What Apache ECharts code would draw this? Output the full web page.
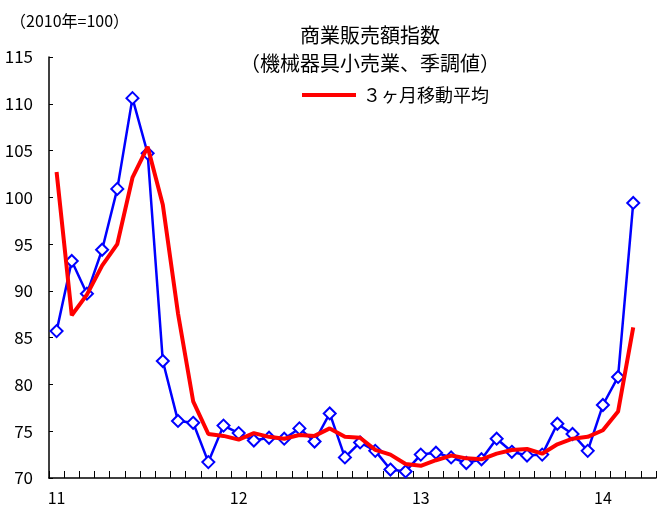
<!DOCTYPE html>
<html>
<head>
<meta charset="utf-8">
<script src="https://cdn.jsdelivr.net/npm/echarts@6/dist/echarts.min.js"></script>
<style>
  html, body { margin: 0; padding: 0; background: #fff; }
  #chart { width: 657px; height: 506px; }
</style>
</head>
<body>
<div id="chart"></div>
<script>
// Monthly categories, Jan 2011 – Apr 2014 (last slot left empty)
const months = [
  '2011/01','2011/02','2011/03','2011/04','2011/05','2011/06','2011/07','2011/08','2011/09','2011/10','2011/11','2011/12',
  '2012/01','2012/02','2012/03','2012/04','2012/05','2012/06','2012/07','2012/08','2012/09','2012/10','2012/11','2012/12',
  '2013/01','2013/02','2013/03','2013/04','2013/05','2013/06','2013/07','2013/08','2013/09','2013/10','2013/11','2013/12',
  '2014/01','2014/02','2014/03','2014/04'
];

// Monthly index (seasonally adjusted, 2010 = 100)
const monthlyIndex = [
  85.7, 93.2, 89.7, 94.4, 100.9, 110.6, 104.7, 82.5, 76.1, 75.9, 71.7, 75.6,
  74.8, 74.0, 74.3, 74.2, 75.3, 73.9, 76.9, 72.2, 73.8, 72.9, 70.9, 70.7,
  72.5, 72.7, 72.2, 71.6, 72.0, 74.2, 72.8, 72.4, 72.5, 75.8, 74.7, 72.9,
  77.8, 80.8, 99.4
];

// 3-month moving average
const movingAvg = [
  102.7, 87.4, 89.6, 92.7, 95.0, 102.1, 105.4, 99.2, 87.6, 78.2, 74.7, 74.5,
  74.1, 74.8, 74.4, 74.2, 74.6, 74.5, 75.3, 74.4, 74.3, 73.0, 72.5, 71.5,
  71.3, 71.9, 72.4, 72.1, 72.0, 72.6, 73.0, 73.1, 72.6, 73.6, 74.2, 74.4,
  75.1, 77.1, 86.1
];

const yMin = 70, yMax = 115, yStep = 5;

const FONT = '"Noto Sans CJK JP", "Noto Sans", sans-serif';
const BLUE = '#0000ff';
const RED = '#ff0000';

const chart = echarts.init(document.getElementById('chart'), null, { renderer: 'canvas' });

chart.setOption({
  animation: false,
  backgroundColor: '#ffffff',
  textStyle: { fontFamily: FONT, color: '#000' },
  grid: { left: 49, right: 1, top: 57, bottom: 28, containLabel: false },
  graphic: [
    {
      type: 'text', left: 10, top: 13,
      style: { text: '（2010年=100）', font: '16px ' + FONT, fill: '#000' }
    },
    {
      type: 'text', x: 370, y: 21,
      style: {
        text: '商業販売額指数\n（機械器具小売業、季調値）',
        font: '20px ' + FONT, fill: '#000',
        textAlign: 'center', textVerticalAlign: 'top', lineHeight: 28
      }
    }
  ],
  legend: {
    left: 302, top: 86, padding: 0,
    data: ['３ヶ月移動平均'],
    icon: 'rect', itemWidth: 54, itemHeight: 4, itemGap: 8,
    textStyle: { fontSize: 18, fontFamily: FONT, color: '#000', padding: [0, 0, 0, 2] }
  },
  xAxis: {
    type: 'category',
    data: months,
    boundaryGap: true,
    axisLine: { show: true, onZero: false, lineStyle: { color: '#000', width: 1.5 } },
    axisTick: { show: true, inside: true, length: 7, interval: 0, lineStyle: { color: '#000', width: 1 } },
    axisLabel: {
      interval: 0, margin: 12, fontSize: 16, fontFamily: FONT, color: '#000',
      formatter: v => v.endsWith('/01') ? v.slice(2, 4) : ''
    },
    splitLine: { show: false }
  },
  yAxis: {
    type: 'value',
    min: yMin, max: yMax, interval: yStep,
    axisLine: { show: true, lineStyle: { color: '#000', width: 1.5 } },
    axisTick: { show: true, inside: true, length: 4, lineStyle: { color: '#000' } },
    axisLabel: { margin: 16, fontSize: 17, fontFamily: FONT, color: '#000' },
    splitLine: { show: false }
  },
  series: [
    {
      name: '商業販売額指数',
      type: 'line',
      data: monthlyIndex,
      symbol: 'diamond',
      symbolSize: 12,
      showAllSymbol: true,
      lineStyle: { color: BLUE, width: 2.5 },
      itemStyle: { color: '#ffffff', borderColor: BLUE, borderWidth: 2 },
      z: 2
    },
    {
      name: '３ヶ月移動平均',
      type: 'line',
      data: movingAvg,
      symbol: 'none',
      lineStyle: { color: RED, width: 4 },
      itemStyle: { color: RED },
      z: 3
    }
  ]
});
</script>
</body>
</html>
